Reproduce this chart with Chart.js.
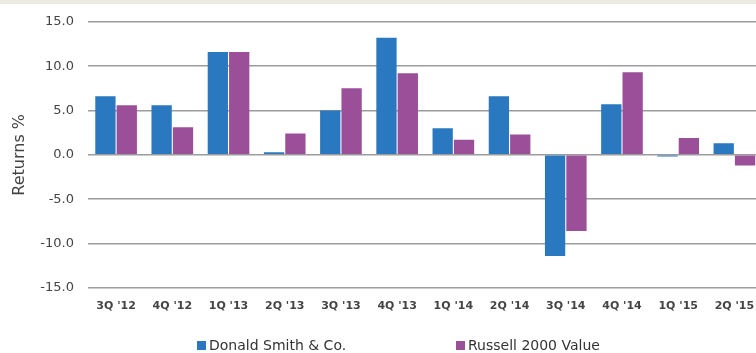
<!DOCTYPE html>
<html>
<head>
<meta charset="utf-8">
<script src="https://cdn.jsdelivr.net/npm/chart.js@4.4.1/dist/chart.umd.min.js"></script>
<style>
  html, body { margin: 0; padding: 0; width: 756px; height: 353px; overflow: hidden; background: #ffffff; }
  #band { position: absolute; left: 0; top: 0; width: 756px; height: 4px; background: #ebebdf; }
  #wrap { position: absolute; left: 0; top: 0; width: 770px; height: 353px; }
  #legend { position: absolute; top: 338px; left: 0; width: 756px; height: 15px; font-family: 'DejaVu Sans', sans-serif; font-size: 14px; color: #333; }
  .item { position: absolute; top: 0; white-space: nowrap; line-height: 15px; }
  .sw { display: inline-block; width: 9px; height: 9px; margin-right: 3px; vertical-align: 0px; }
</style>
</head>
<body>
<div id="wrap"><canvas id="c" width="770" height="353"></canvas></div>
<div id="band"></div>
<div id="legend"></div>
<script>
const categories = ["3Q '12", "4Q '12", "1Q '13", "2Q '13", "3Q '13", "4Q '13", "1Q '14", "2Q '14", "3Q '14", "4Q '14", "1Q '15", "2Q '15"];
const donaldSmith = [6.6, 5.6, 11.6, 0.3, 5.0, 13.2, 3.0, 6.6, -11.4, 5.7, -0.2, 1.3];
const russell2000Value = [5.6, 3.1, 11.6, 2.4, 7.5, 9.2, 1.7, 2.3, -8.6, 9.3, 1.9, -1.2];
const seriesNames = ["Donald Smith & Co.", "Russell 2000 Value"];
const seriesColors = ["#2a78bf", "#9b4f98"];
const yTicks = [-15, -10, -5, 0, 5, 10, 15];

const ctx = document.getElementById('c');
new Chart(ctx, {
  type: 'bar',
  data: {
    labels: categories,
    datasets: [
      { label: seriesNames[0], data: donaldSmith, backgroundColor: seriesColors[0] },
      { label: seriesNames[1], data: russell2000Value, backgroundColor: seriesColors[1] }
    ]
  },
  options: {
    responsive: false,
    animation: false,
    datasets: { bar: { categoryPercentage: 0.76, barPercentage: 0.95 } },
    layout: { padding: { left: 0, right: 7.5, top: 10, bottom: 28 } },
    plugins: { legend: { display: false }, tooltip: { enabled: false } },
    scales: {
      x: {
        grid: { display: false, drawTicks: false },
        border: { display: false },
        ticks: { font: { family: 'DejaVu Sans', size: 11, weight: 'bold' }, color: '#444', padding: 12, maxRotation: 0, autoSkip: false }
      },
      y: {
        min: yTicks[0], max: yTicks[yTicks.length - 1],
        afterBuildTicks: (s) => { s.ticks = yTicks.map(v => ({ value: v })); },
        afterFit: (s) => { s.width = 88; },
        grid: { color: '#9c9c9c', lineWidth: 1.5, drawTicks: false },
        border: { display: false },
        ticks: { font: { family: 'DejaVu Sans', size: 13 }, color: '#444', padding: 14, callback: (v) => Number(v).toFixed(1) },
        title: { display: true, text: 'Returns %', font: { family: 'DejaVu Sans', size: 16 }, color: '#444', padding: { top: 10, bottom: 0 } }
      }
    }
  }
});

const legend = document.getElementById('legend');
const legendX = [197, 456];
seriesNames.forEach((name, i) => {
  const d = document.createElement('div');
  d.className = 'item';
  d.style.left = legendX[i] + 'px';
  const sw = document.createElement('span');
  sw.className = 'sw';
  sw.style.background = seriesColors[i];
  d.appendChild(sw);
  d.appendChild(document.createTextNode(name));
  legend.appendChild(d);
});
</script>
</body>
</html>
